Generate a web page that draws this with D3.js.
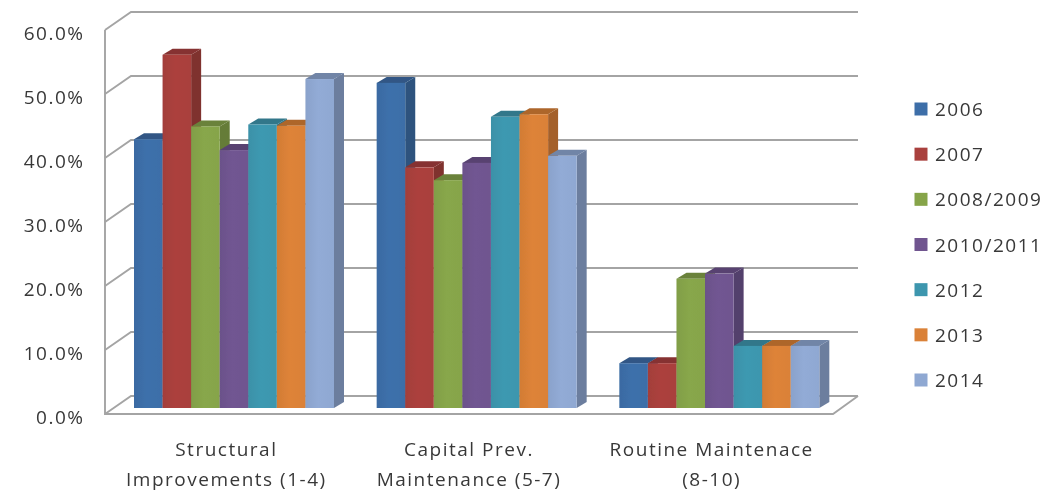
<!DOCTYPE html>
<html><head><meta charset="utf-8">
<script src="https://cdn.jsdelivr.net/npm/d3@7"></script>
<style>html,body{margin:0;padding:0;background:#fff}svg{display:block}text{font-family:"Open Sans",sans-serif;fill:#383838;letter-spacing:1.5px}</style>
</head><body><svg id="c" width="1062" height="490"></svg>
<script>
const categories = [["Structural","Improvements (1-4)"],["Capital Prev.","Maintenance (5-7)"],["Routine Maintenace","(8-10)"]];
const seriesNames = ["2006","2007","2008/2009","2010/2011","2012","2013","2014"];
const seriesColors = ["#3c6ea8","#a9403c","#86a44a","#6f548f","#3d96ae","#da8137","#8fa8d2"];
const v2006 = [42.0,50.8,7.0];
const v2007 = [55.2,37.6,7.0];
const v2008 = [44.0,35.6,20.2];
const v2010 = [40.3,38.3,21.0];
const v2012 = [44.3,45.5,9.7];
const v2013 = [44.1,45.9,9.7];
const v2014 = [51.4,39.4,9.7];
const allValues = [v2006,v2007,v2008,v2010,v2012,v2013,v2014];
const tickValues = [0,10,20,30,40,50,60];

const svg = d3.select("#c");
const defs = svg.append("defs");
defs.append("filter").attr("id","soft").attr("x","-2%").attr("y","-2%").attr("width","104%").attr("height","104%")
  .append("feGaussianBlur").attr("stdDeviation",0.65);
seriesColors.forEach((c,i)=>{
  const g = defs.append("linearGradient").attr("id","g"+i);
  g.append("stop").attr("offset","0%").attr("stop-color",d3.color(c).darker(0.1));
  g.append("stop").attr("offset","45%").attr("stop-color",d3.color(c).brighter(0.05));
  g.append("stop").attr("offset","100%").attr("stop-color",c);
});
const root = svg.append("g").attr("filter","url(#soft)");

const dx = 10, dy = 6;              // bar depth projection
const wallDx = 26, wallUp = 12, floorDown = 6;
const y = d3.scaleLinear().domain([0,60]).range([408,24]);
const x0 = d3.scaleBand().domain(d3.range(categories.length)).range([105,833]);
const x1 = d3.scaleBand().domain(d3.range(seriesNames.length)).range([29,229]);

// walls & gridlines
const grid = root.append("g").attr("fill","none").attr("stroke","#a4a4a4").attr("stroke-width",1.9);
tickValues.forEach(t=>{
  const yf = y(t)+floorDown, yb = y(t)-wallUp;
  grid.append("path").attr("d",`M105,${yf}L${105+wallDx},${yb}L858,${yb}`);
});
grid.append("path").attr("d",`M105,${y(60)+floorDown}V${y(0)+floorDown}H833L858,${y(0)-wallUp}`);

// bars
categories.forEach((_,ci)=>{
  seriesNames.forEach((_,si)=>{
    const v = allValues[si][ci], c = d3.color(seriesColors[si]);
    const l = x0(ci)+x1(si), w = x1.bandwidth(), t = y(v), b = y(0);
    const g = root.append("g");
    g.append("path").attr("fill",c.darker(0.8))
      .attr("d",`M${l+w},${t}L${l+w+dx},${t-dy}V${b-dy}L${l+w},${b}Z`);
    g.append("path").attr("fill",c.darker(0.65))
      .attr("d",`M${l},${t}L${l+dx},${t-dy}H${l+w+dx}L${l+w},${t}Z`);
    g.append("rect").attr("x",l).attr("y",t).attr("width",w).attr("height",b-t).attr("fill",`url(#g${si})`);
  });
});

// value labels
const axis = d3.axisLeft(d3.scaleLinear().domain([0,60]).range([y(0)+floorDown,y(60)+floorDown]))
  .tickValues(tickValues).tickSize(0).tickPadding(0).tickFormat(d=>d3.format(".1f")(d)+"%");
const ag = root.append("g").attr("transform","translate(84.5,3.5)").call(axis);
ag.select(".domain").remove();
ag.selectAll("text").attr("font-size",19).attr("font-family",'"Open Sans",sans-serif');

// category labels
categories.forEach((lines,i)=>{
  lines.forEach((s,j)=>{
    root.append("text").attr("x",x0(i)+x0.bandwidth()/2).attr("y",455.5+j*30)
      .attr("text-anchor","middle").attr("font-size",19).text(s);
  });
});

// legend
const ly = d3.scalePoint().domain(seriesNames).range([109,380]);
seriesNames.forEach((s,i)=>{
  root.append("rect").attr("x",914.5).attr("y",ly(s)-6.5).attr("width",13).attr("height",13).attr("fill",seriesColors[i]);
  root.append("text").attr("x",935).attr("y",ly(s)+7).attr("font-size",19).text(s);
});
</script></body></html>
